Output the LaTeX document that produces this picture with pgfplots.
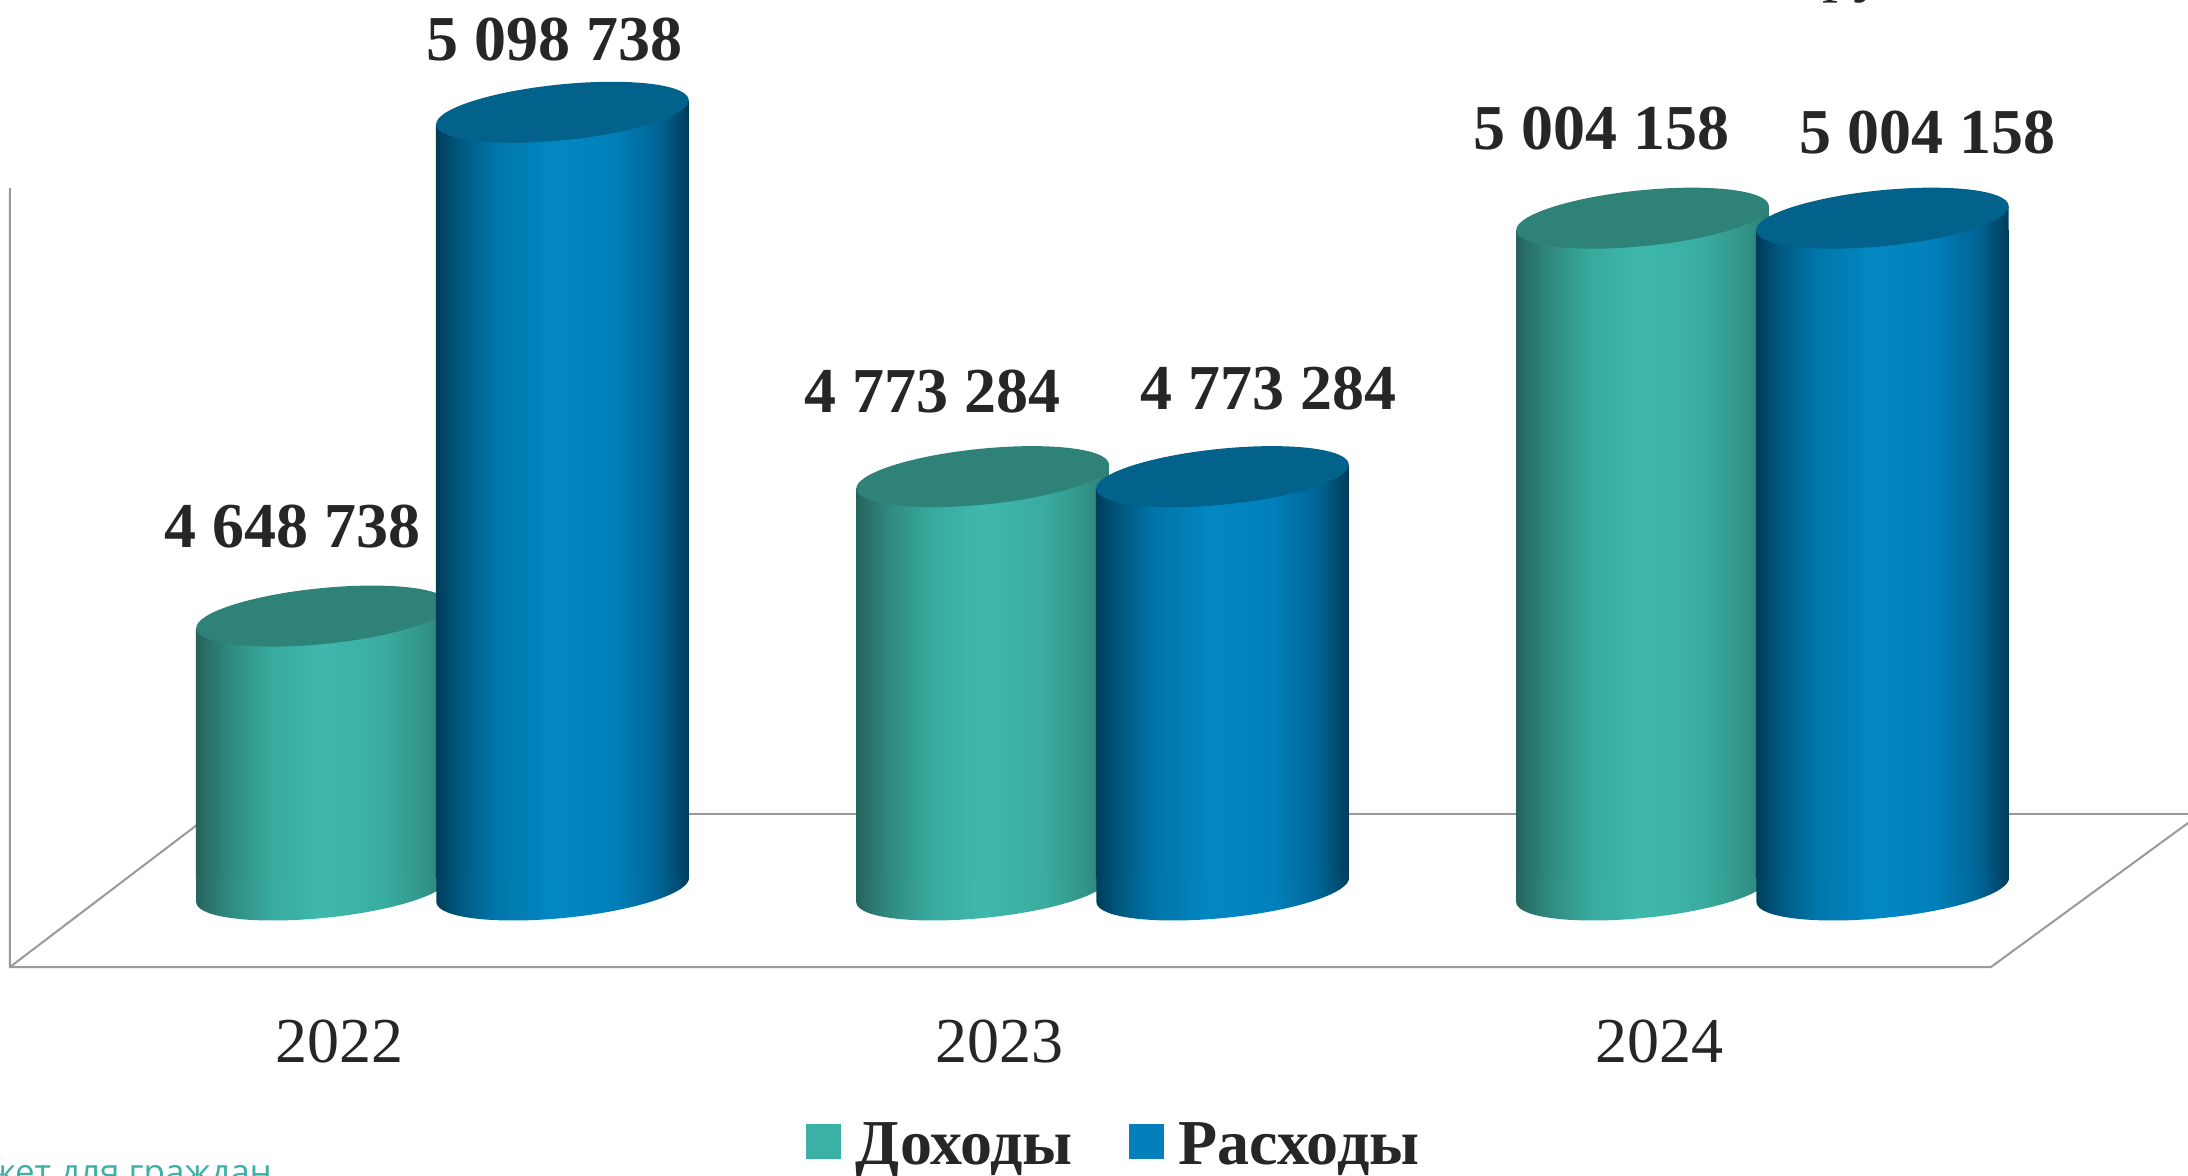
\documentclass[border=0pt]{standalone}
\usepackage{fontspec}
\usepackage{pgfplots}
\pgfplotsset{compat=1.18}
\setmainfont{Liberation Serif}
\newfontfamily\sansf{Open Sans}
\definecolor{txt}{HTML}{262626}
\definecolor{tealc}{HTML}{3BB0A4}
\definecolor{bluec}{HTML}{0380BB}
\definecolor{tealtop}{HTML}{2E8278}
\definecolor{bluetop}{HTML}{02628C}
\definecolor{lin}{HTML}{999999}
\pgfdeclarehorizontalshading{cylA}{100bp}{rgb(0bp)=(.145,.388,.361);rgb(25bp)=(.145,.388,.361);rgb(32bp)=(.188,.549,.510);rgb(40bp)=(.22,.667,.62);rgb(50bp)=(.247,.722,.675);rgb(62bp)=(.227,.675,.627);rgb(70bp)=(.196,.58,.541);rgb(75bp)=(.173,.49,.451);rgb(100bp)=(.173,.49,.451)}
\pgfdeclarehorizontalshading{cylB}{100bp}{rgb(0bp)=(0,.235,.353);rgb(25bp)=(0,.235,.353);rgb(30bp)=(0,.353,.51);rgb(37bp)=(0,.463,.667);rgb(48bp)=(.012,.53,.765);rgb(60bp)=(.004,.502,.733);rgb(69bp)=(0,.392,.58);rgb(75bp)=(0,.235,.353);rgb(100bp)=(0,.235,.353)}
% 1 px of the 2188 wide picture = 0.5pt
\newcommand\cylbase[1]{%
  \pgfpathellipse{\pgfqpoint{0pt}{-6pt}}{\pgfqpoint{63.14pt}{6.30pt}}{\pgfqpoint{-1.39pt}{13.89pt}}%
  \pgfpathmoveto{\pgfqpoint{-63.15pt}{-12pt}}\pgfpathlineto{\pgfqpoint{63.15pt}{0pt}}\pgfpathlineto{\pgfqpoint{-63.15pt}{0pt}}\pgfpathclose
  \pgfshadepath{#1}{0}\pgfusepath{discard}}
\newcommand\cyltop[2]{%
  \pgfpathmoveto{\pgfqpoint{-63.15pt}{0pt}}\pgfpathlineto{\pgfqpoint{63.15pt}{0pt}}\pgfpathlineto{\pgfqpoint{63.15pt}{12pt}}\pgfpathclose
  \pgfshadepath{#1}{0}\pgfusepath{discard}%
  \pgfsetfillcolor{#2}%
  \pgfpathellipse{\pgfqpoint{0pt}{6pt}}{\pgfqpoint{63.14pt}{6.30pt}}{\pgfqpoint{-1.39pt}{13.89pt}}\pgfusepath{fill}}
\pgfdeclareplotmark{baseA}{\cylbase{cylA}}
\pgfdeclareplotmark{baseB}{\cylbase{cylB}}
\pgfdeclareplotmark{topA}{\cyltop{cylA}{tealtop}}
\pgfdeclareplotmark{topB}{\cyltop{cylB}{bluetop}}
\pgfplotstableread{
x income expense
2022 4648738 5098738
2023 4773284 4773284
2024 5004158 5004158
}\budget
\pgfplotstableread{
x y
2021.975 4425500
2022.975 4425500
2023.975 4425500
}\baseA
\pgfplotstableread{
x y
2022.339 4425500
2023.339 4425500
2024.339 4425500
}\baseB
\begin{document}
\begin{tikzpicture}
\path[use as bounding box] (0pt,0pt) rectangle (1094pt,587.5pt);
\begin{axis}[
  at={(0pt,0pt)},anchor=south west,
  scale only axis,width=1094pt,height=587.5pt,
  xmin=2021.4864,xmax=2024.8015,ymin=-265310,ymax=784265,
  y filter/.expression={y-4425500},
  clip=false,clip mode=individual,
  axis line style={draw=none},
  major tick length=0pt,
  xtick={2022,2023,2024},
  xticklabels={2022,2023,2024},
  ytick=\empty,
  x tick label style={font=\fontsize{32}{32}\selectfont,text=txt,anchor=center,yshift=66.5pt,xshift=0.4pt},
  barA/.style={ybar,bar width=0.3833,bar shift=-0.025,draw=none,shade,shading=cylA,forget plot},
  barB/.style={ybar,bar width=0.3833,bar shift=0.3386,draw=none,shade,shading=cylB,forget plot},
  legend style={at={(rel axis cs:0.5095,0.0251)},anchor=center,draw=none,fill=none,
    legend columns=2,font=\fontsize{32}{32}\selectfont\bfseries,text=txt,
    /tikz/every even column/.append style={column sep=26.2pt},
    /tikz/every odd column/.append style={column sep=5.5pt},inner sep=0pt},
  legend cell align=left,
]
\addlegendimage{legend image code/.code={\fill[tealc] (0pt,-6.5pt) rectangle (17pt,10.5pt);}}
\addlegendentry{Доходы}
\addlegendimage{legend image code/.code={\fill[bluec] (0pt,-6.5pt) rectangle (17pt,10.5pt);}}
\addlegendentry{Расходы}
% frame of the 3D chart
\addplot[lin,line width=1pt,forget plot] coordinates {(2021.5015,5041833) (2021.5015,4345982) (2024.5030,4345982) (2024.8015,4474615)};
\addplot[lin,line width=1pt,forget plot] coordinates {(2021.5015,4345982) (2021.8076,4483102)};
\addplot[lin,line width=1pt,forget plot] coordinates {(2021.8076,4483102) (2024.8015,4483102)};
% income
\addplot[only marks,mark=baseA,forget plot] table[x=x,y=y] {\baseA};
\addplot[barA] coordinates {(2022,4648738)};
\addplot[barA] coordinates {(2023,4773284)};
\addplot[barA] coordinates {(2024,5004158)};
\addplot[only marks,mark=topA,forget plot,x filter/.expression={x-0.025}] table[x=x,y=income] {\budget};
% expense
\addplot[only marks,mark=baseB,forget plot] table[x=x,y=y] {\baseB};
\addplot[barB] coordinates {(2022,5098738)};
\addplot[barB] coordinates {(2023,4773284)};
\addplot[barB] coordinates {(2024,5004158)};
\addplot[only marks,mark=topB,forget plot,x filter/.expression={x+0.3386}] table[x=x,y=expense] {\budget};
% labels
\tikzset{lab/.style={font=\fontsize{32}{32}\selectfont\bfseries,text=txt,inner sep=0pt}}
\node[lab] at (axis cs:2021.9290,313719) {4 648 738};
\node[lab] at (axis cs:2022.3260,749019) {5 098 738};
\node[lab] at (axis cs:2022.9000,434919) {4 773 284};
\node[lab] at (axis cs:2023.4080,436919) {4 773 284};
\node[lab] at (axis cs:2023.9130,669519) {5 004 158};
\node[lab] at (axis cs:2024.4065,666219) {5 004 158};
\node[font=\sansf\fontsize{17.5}{17.5}\selectfont,text=tealc,anchor=base east,inner sep=0pt] at (axis cs:2021.8990,-274000) {Бюджет для граждан};
\node[font=\fontsize{32}{32}\selectfont,text=txt,anchor=base,inner sep=0pt] at (axis cs:2024.2867,793619) {тыс. рублей};
\end{axis}
\end{tikzpicture}
\end{document}
